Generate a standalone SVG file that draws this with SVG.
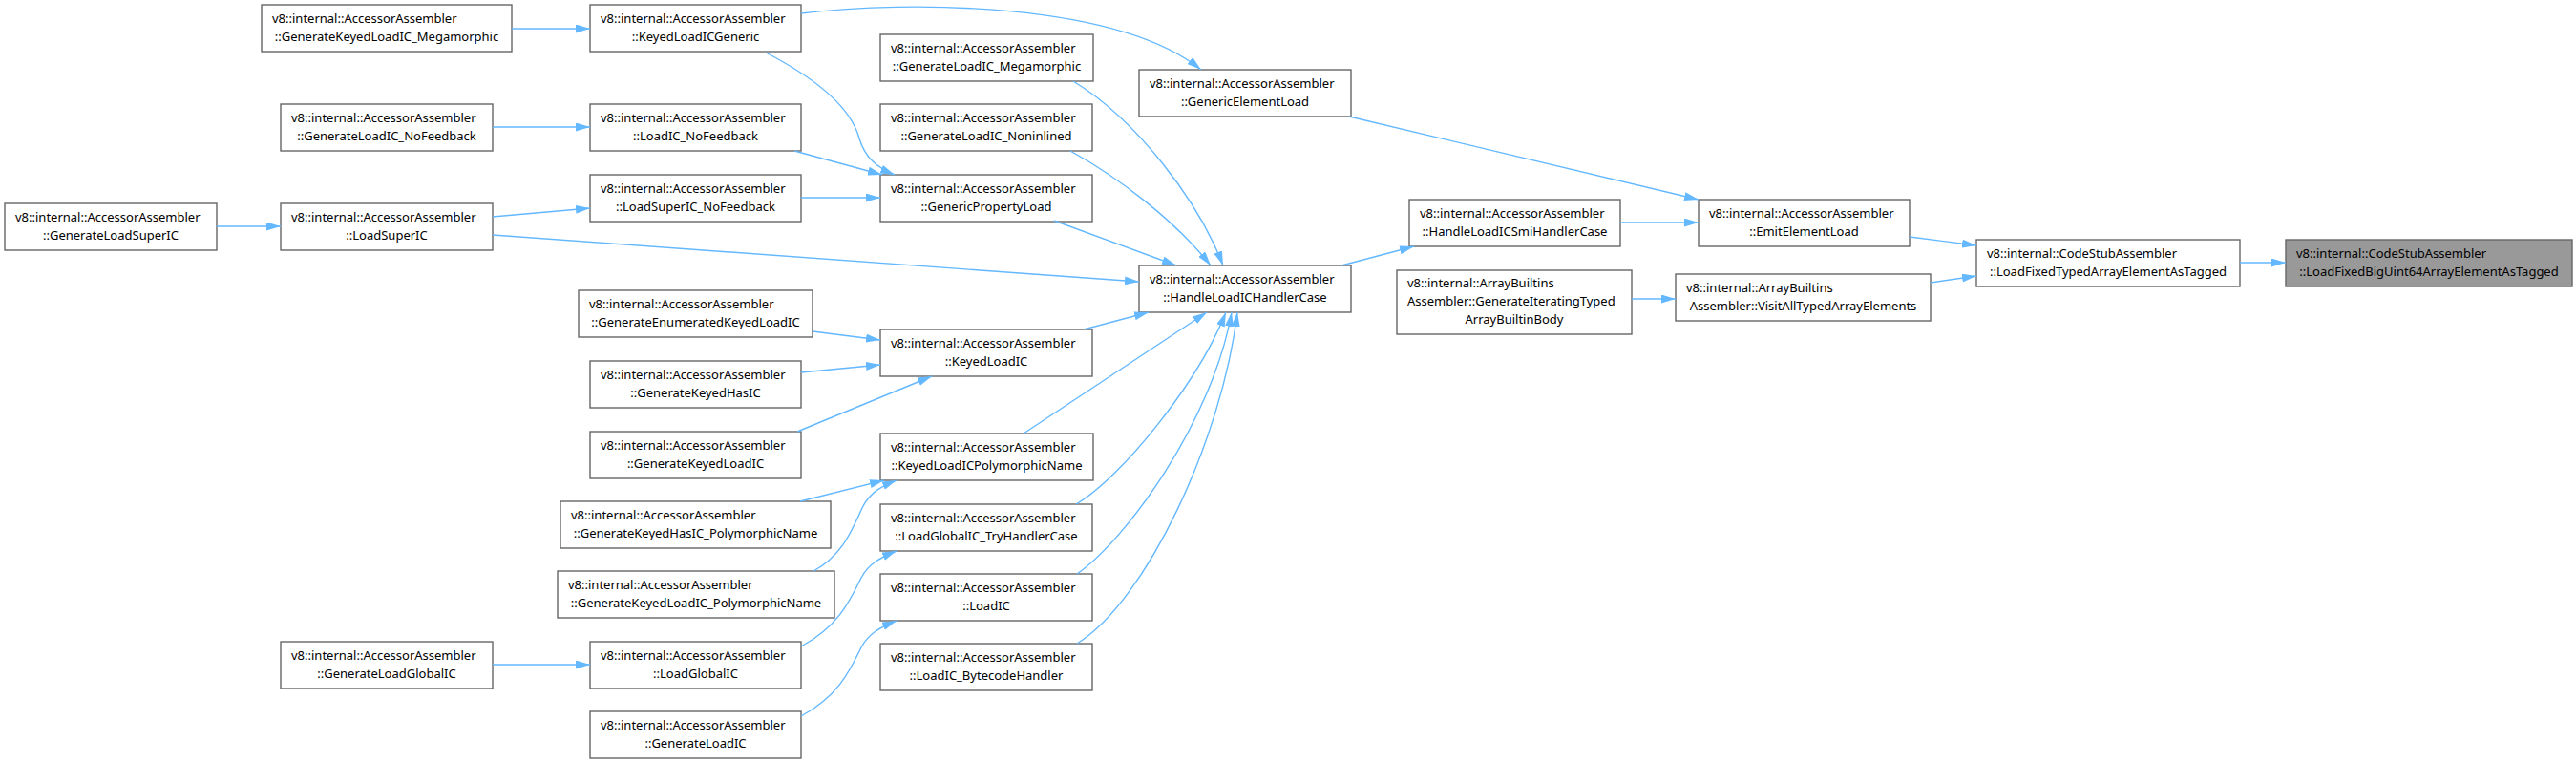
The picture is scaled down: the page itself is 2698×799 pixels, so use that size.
<svg xmlns="http://www.w3.org/2000/svg" width="2698" height="799" viewBox="0 0 2698 799">
<style>
.n rect{fill:#ffffff;stroke:#666666;stroke-width:1.4}
.n.hl rect{fill:#999999}
.n text{font-family:"Noto Sans","Liberation Sans",Arial,sans-serif;font-size:13px;fill:#000000}
.n text.c{text-anchor:middle}
.e path{fill:none;stroke:#63b8ff;stroke-width:1.4;marker-end:url(#ah)}
</style>
<defs>
<marker id="ah" viewBox="0 0 15 10" refX="15" refY="5" markerWidth="15" markerHeight="9" markerUnits="userSpaceOnUse" orient="auto" preserveAspectRatio="none"><path d="M0,0 L15,5 L0,10 z" fill="#63b8ff" stroke="none"/></marker>
</defs>
<rect width="2698" height="799" fill="#ffffff"/>
<g id="nodes">
<g id="A" class="n"><rect x="274" y="5" width="262" height="49"/><text x="285" y="23.5">v8::internal::AccessorAssembler</text><text class="c" x="405" y="42.5">::GenerateKeyedLoadIC_Megamorphic</text></g>
<g id="B" class="n"><rect x="618" y="5" width="221" height="49"/><text x="629" y="23.5">v8::internal::AccessorAssembler</text><text class="c" x="728.5" y="42.5">::KeyedLoadICGeneric</text></g>
<g id="C" class="n"><rect x="922" y="36" width="223" height="49"/><text x="933" y="54.5">v8::internal::AccessorAssembler</text><text class="c" x="1033.5" y="73.5">::GenerateLoadIC_Megamorphic</text></g>
<g id="D" class="n"><rect x="1193" y="73" width="222" height="49"/><text x="1204" y="91.5">v8::internal::AccessorAssembler</text><text class="c" x="1304" y="110.5">::GenericElementLoad</text></g>
<g id="E" class="n"><rect x="294" y="109" width="222" height="49"/><text x="305" y="127.5">v8::internal::AccessorAssembler</text><text class="c" x="405" y="146.5">::GenerateLoadIC_NoFeedback</text></g>
<g id="F" class="n"><rect x="618" y="109" width="221" height="49"/><text x="629" y="127.5">v8::internal::AccessorAssembler</text><text class="c" x="728.5" y="146.5">::LoadIC_NoFeedback</text></g>
<g id="G" class="n"><rect x="922" y="109" width="222" height="49"/><text x="933" y="127.5">v8::internal::AccessorAssembler</text><text class="c" x="1033" y="146.5">::GenerateLoadIC_Noninlined</text></g>
<g id="H" class="n"><rect x="618" y="183" width="221" height="49"/><text x="629" y="201.5">v8::internal::AccessorAssembler</text><text class="c" x="728.5" y="220.5">::LoadSuperIC_NoFeedback</text></g>
<g id="I" class="n"><rect x="922" y="183" width="222" height="49"/><text x="933" y="201.5">v8::internal::AccessorAssembler</text><text class="c" x="1033" y="220.5">::GenericPropertyLoad</text></g>
<g id="J" class="n"><rect x="5" y="213" width="222" height="49"/><text x="16" y="231.5">v8::internal::AccessorAssembler</text><text class="c" x="116" y="250.5">::GenerateLoadSuperIC</text></g>
<g id="K" class="n"><rect x="294" y="213" width="222" height="49"/><text x="305" y="231.5">v8::internal::AccessorAssembler</text><text class="c" x="405" y="250.5">::LoadSuperIC</text></g>
<g id="L" class="n"><rect x="1476" y="209" width="221" height="49"/><text x="1487" y="227.5">v8::internal::AccessorAssembler</text><text class="c" x="1586.5" y="246.5">::HandleLoadICSmiHandlerCase</text></g>
<g id="M" class="n"><rect x="1779" y="209" width="221" height="49"/><text x="1790" y="227.5">v8::internal::AccessorAssembler</text><text class="c" x="1889.5" y="246.5">::EmitElementLoad</text></g>
<g id="N" class="n"><rect x="2070" y="251" width="276" height="49"/><text x="2081" y="269.5">v8::internal::CodeStubAssembler</text><text class="c" x="2208" y="288.5">::LoadFixedTypedArrayElementAsTagged</text></g>
<g id="O" class="n hl"><rect x="2394" y="251" width="300" height="49"/><text x="2405" y="269.5">v8::internal::CodeStubAssembler</text><text class="c" x="2544" y="288.5">::LoadFixedBigUint64ArrayElementAsTagged</text></g>
<g id="P" class="n"><rect x="1193" y="278" width="222" height="49"/><text x="1204" y="296.5">v8::internal::AccessorAssembler</text><text class="c" x="1304" y="315.5">::HandleLoadICHandlerCase</text></g>
<g id="Q" class="n"><rect x="1463" y="283" width="246" height="67"/><text x="1474" y="300.5">v8::internal::ArrayBuiltins</text><text x="1474" y="319.5">Assembler::GenerateIteratingTyped</text><text class="c" x="1586" y="338.5">ArrayBuiltinBody</text></g>
<g id="R" class="n"><rect x="1755" y="287" width="267" height="49"/><text x="1766" y="305.5">v8::internal::ArrayBuiltins</text><text class="c" x="1888.5" y="324.5">Assembler::VisitAllTypedArrayElements</text></g>
<g id="U" class="n"><rect x="606" y="304" width="245" height="49"/><text x="617" y="322.5">v8::internal::AccessorAssembler</text><text class="c" x="728.5" y="341.5">::GenerateEnumeratedKeyedLoadIC</text></g>
<g id="S" class="n"><rect x="922" y="345" width="222" height="49"/><text x="933" y="363.5">v8::internal::AccessorAssembler</text><text class="c" x="1033" y="382.5">::KeyedLoadIC</text></g>
<g id="V" class="n"><rect x="618" y="378" width="221" height="49"/><text x="629" y="396.5">v8::internal::AccessorAssembler</text><text class="c" x="728.5" y="415.5">::GenerateKeyedHasIC</text></g>
<g id="W" class="n"><rect x="618" y="452" width="221" height="49"/><text x="629" y="470.5">v8::internal::AccessorAssembler</text><text class="c" x="728.5" y="489.5">::GenerateKeyedLoadIC</text></g>
<g id="T" class="n"><rect x="922" y="454" width="223" height="49"/><text x="933" y="472.5">v8::internal::AccessorAssembler</text><text class="c" x="1033.5" y="491.5">::KeyedLoadICPolymorphicName</text></g>
<g id="X" class="n"><rect x="587" y="525" width="283" height="49"/><text x="598" y="543.5">v8::internal::AccessorAssembler</text><text class="c" x="728.5" y="562.5">::GenerateKeyedHasIC_PolymorphicName</text></g>
<g id="AC" class="n"><rect x="922" y="528" width="222" height="49"/><text x="933" y="546.5">v8::internal::AccessorAssembler</text><text class="c" x="1033" y="565.5">::LoadGlobalIC_TryHandlerCase</text></g>
<g id="Y" class="n"><rect x="584" y="598" width="290" height="49"/><text x="595" y="616.5">v8::internal::AccessorAssembler</text><text class="c" x="729" y="635.5">::GenerateKeyedLoadIC_PolymorphicName</text></g>
<g id="AD" class="n"><rect x="922" y="601" width="222" height="49"/><text x="933" y="619.5">v8::internal::AccessorAssembler</text><text class="c" x="1033" y="638.5">::LoadIC</text></g>
<g id="Z" class="n"><rect x="294" y="672" width="222" height="49"/><text x="305" y="690.5">v8::internal::AccessorAssembler</text><text class="c" x="405" y="709.5">::GenerateLoadGlobalIC</text></g>
<g id="AA" class="n"><rect x="618" y="672" width="221" height="49"/><text x="629" y="690.5">v8::internal::AccessorAssembler</text><text class="c" x="728.5" y="709.5">::LoadGlobalIC</text></g>
<g id="AE" class="n"><rect x="922" y="674" width="222" height="49"/><text x="933" y="692.5">v8::internal::AccessorAssembler</text><text class="c" x="1033" y="711.5">::LoadIC_BytecodeHandler</text></g>
<g id="AB" class="n"><rect x="618" y="745" width="221" height="49"/><text x="629" y="763.5">v8::internal::AccessorAssembler</text><text class="c" x="728.5" y="782.5">::GenerateLoadIC</text></g>
</g>
<g id="edges" class="e">
<path d="M536,30 L618,30"/>
<path d="M839,14 C950,0 1170,2 1258,73"/>
<path d="M802,55 C860,85 892,115 900,145 C906,165 918,175 937,183"/>
<path d="M516,133 L618,133"/>
<path d="M832,158 L924,183"/>
<path d="M839,207 L922,207"/>
<path d="M227,237 L294,237"/>
<path d="M516,227 L618,218"/>
<path d="M516,246 L1193,295"/>
<path d="M1124,85 C1190,125 1255,210 1281,278"/>
<path d="M1121,158 C1170,185 1230,230 1268,278"/>
<path d="M1104,231 L1232,278"/>
<path d="M1413,122 L1779,209"/>
<path d="M1405,278 L1481,258"/>
<path d="M1697,233 L1779,233"/>
<path d="M2000,248 L2070,257"/>
<path d="M2022,296 L2070,289"/>
<path d="M2346,275 L2394,275"/>
<path d="M1709,313 L1755,313"/>
<path d="M1135,345 L1203,327"/>
<path d="M1072,454 L1264,327"/>
<path d="M1127,528 C1175,500 1255,400 1284,327"/>
<path d="M1128,601 C1180,565 1270,440 1290,327"/>
<path d="M1128,674 C1200,630 1280,460 1296,327"/>
<path d="M851,347 L922,356"/>
<path d="M839,390 L922,382"/>
<path d="M835,452 L976,394"/>
<path d="M838,525 L926,503"/>
<path d="M852,598 C885,580 894,550 904,530 C912,515 924,509 939,503"/>
<path d="M516,696 L618,696"/>
<path d="M839,677 C880,655 892,625 902,605 C910,590 922,584 939,577"/>
<path d="M839,750 C880,728 892,698 902,678 C910,663 922,657 939,650"/>
</g>
</svg>
